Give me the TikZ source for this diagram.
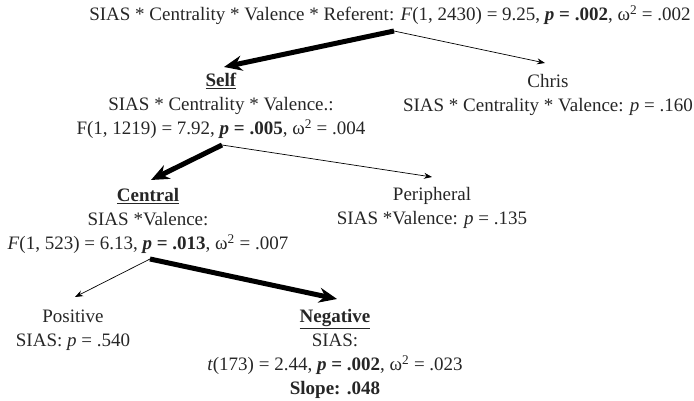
\documentclass[tikz,border=0pt]{standalone}
\usepackage{fontspec}
\setmainfont{Liberation Serif}
\usetikzlibrary{arrows.meta,positioning}

\newcommand{\pbold}[1]{\textbf{\textit{p} = #1}}
\newcommand{\omsq}{ω\textsuperscript{2}}

\begin{document}
\begin{tikzpicture}[x=1pt,y=-1pt,font=\fontsize{19}{24}\selectfont,
    res/.style={align=center,inner sep=0pt,text=black!85},
    hit/.style={-{Stealth[length=18pt,width=15pt]},line width=5pt},
    miss/.style={-{Stealth[length=8pt,width=6pt]},line width=0.7pt}]
  \useasboundingbox (0,0) rectangle (694,401);
  % level 1
  \node[res] (referent) at (390,15)
    {SIAS * Centrality * Valence * Referent: \textit{F}(1, 2430) = 9.25, \pbold{.002}, \omsq{} = .002};
  % level 2
  \node[res] (self) at (221,106)
    {\underline{\textbf{Self}}\\SIAS * Centrality * Valence.:\\F(1, 1219) = 7.92, \pbold{.005}, \omsq{} = .004};
  \node[res] (chris) at (548,95)
    {Chris\\SIAS * Centrality * Valence: \textit{p} = .160};
  % level 3
  \node[res] (central) at (148,221)
    {\underline{\textbf{Central}}\\SIAS *Valence:\\\textit{F}(1, 523) = 6.13, \pbold{.013}, \omsq{} = .007};
  \node[res] (peripheral) at (432,208)
    {Peripheral\\SIAS *Valence: \textit{p} = .135};
  % level 4
  \node[res] (positive) at (73,330)
    {Positive\\SIAS: \textit{p} = .540};
  \node[res] (negative) at (335,354)
    {\underline{\textbf{Negative}}\\SIAS:\\\textit{t}(173) = 2.44, \pbold{.002}, \omsq{} = .023\\\textbf{Slope: .048}};

  % split points and arrow ends
  \coordinate (refSplit) at (394,31);
  \coordinate (selfIn) at (224,67);
  \coordinate (chrisIn) at (545,63);
  \coordinate (selfSplit) at (222,145);
  \coordinate (centralIn) at (151,180);
  \coordinate (periphIn) at (432,177);
  \coordinate (centralSplit) at (150,259);
  \coordinate (posIn) at (75,297);
  \coordinate (negIn) at (337,299);

  \draw[miss] (refSplit) -- (chrisIn);
  \draw[hit] (refSplit) -- (selfIn);
  \draw[miss] (selfSplit) -- (periphIn);
  \draw[hit] (selfSplit) -- (centralIn);
  \draw[miss] (centralSplit) -- (posIn);
  \draw[hit] (centralSplit) -- (negIn);
\end{tikzpicture}
\end{document}
